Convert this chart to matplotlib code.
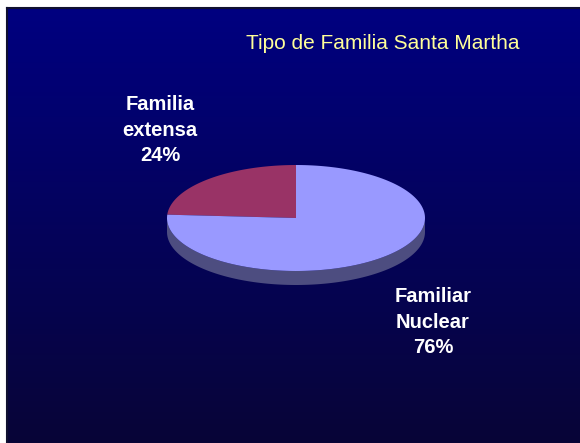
import numpy as np
import matplotlib
matplotlib.use("Agg")
import matplotlib.pyplot as plt
from matplotlib.patches import Polygon

plt.rcParams["font.family"] = ["Liberation Sans", "DejaVu Sans"]

# datos
labels = ["Familia\nextensa", "Familiar\nNuclear"]
shares = [24, 76]
colors = ["#993366", "#9999FF"]
side_colors = ["#5a2040", "#4d4d80"]
title = "Tipo de Familia Santa Martha"

W, H = 580, 443
fig = plt.figure(figsize=(W / 100, H / 100), dpi=100)
fig.patch.set_facecolor("white")
ax = fig.add_axes([0, 0, 1, 1])
ax.set_xlim(0, W)
ax.set_ylim(H, 0)
ax.axis("off")

# fondo degradado
x0, y0 = 7, 8
top = np.array([0, 0, 128]) / 255
bot = np.array([8, 5, 55]) / 255
t = np.linspace(0, 1, 256)[:, None, None]
grad = (top * (1 - t) + bot * t) * np.ones((1, 2, 1))
ax.imshow(grad, extent=[x0, W, H, y0], aspect="auto", zorder=0)
ax.plot([x0, x0], [y0, H], color="#101030", lw=1.5, zorder=1)
ax.plot([x0, W], [y0, y0], color="#101030", lw=1.5, zorder=1)

# pastel 3D
cx, cy, a, b, depth = 296, 218, 129, 53, 14


def pt(th):
    th = np.radians(th)
    return cx + a * np.cos(th), cy - b * np.sin(th)


start = 90.0
spans = []
for s in shares:
    ang = 360 * s / sum(shares)
    spans.append((start, start + ang))
    start += ang

# caras laterales (solo mitad frontal: 180..360)
for (s0, s1), sc in zip(spans, side_colors):
    for off in (0, 360):
        lo, hi = max(s0, 180 + off), min(s1, 360 + off)
        if hi <= lo:
            continue
        th = np.linspace(lo, hi, 120)
        xs, ys = pt(th)
        poly = np.concatenate([np.c_[xs, ys], np.c_[xs[::-1], ys[::-1] + depth]])
        ax.add_patch(Polygon(poly, closed=True, fc=sc, ec="none", zorder=2))

# caras superiores
for (s0, s1), c in zip(spans, colors):
    th = np.linspace(s0, s1, 200)
    xs, ys = pt(th)
    poly = np.concatenate([[[cx, cy]], np.c_[xs, ys]])
    ax.add_patch(Polygon(poly, closed=True, fc=c, ec="none", zorder=3))

# etiquetas
label_pos = [(160, 130), (433, 322)]
for (lx, ly), lab, s in zip(label_pos, labels, shares):
    ax.text(lx, ly, f"{lab}\n{s}%", color="white", fontsize=14.5,
            fontweight="bold", ha="center", va="center", linespacing=1.45,
            zorder=4)

ax.text(383, 43, title, color="#FFFF99", fontsize=15, ha="center",
        va="center", zorder=4)

fig.savefig("out.png", dpi=100, facecolor=fig.get_facecolor())
